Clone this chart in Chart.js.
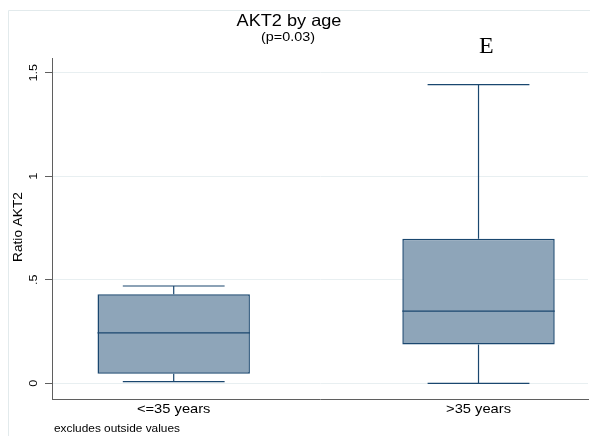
<!DOCTYPE html>
<html>
<head>
<meta charset="utf-8">
<title>AKT2 by age</title>
<script src="https://cdn.jsdelivr.net/npm/chart.js@4.4.0/dist/chart.umd.min.js"></script>
<style>
  body { margin: 0; background: #fff; overflow: hidden; }
  #wrap { width: 590px; height: 436px; }
</style>
</head>
<body>
<div id="wrap">
  <canvas id="boxChart" width="590" height="436"></canvas>
</div>
<script>
// values
var categories = ['<=35 years', '>35 years'];
var lowerWhisker = [0.008, 0.0];
var q1 = [0.046, 0.188];
var median = [0.244, 0.349];
var q3 = [0.430, 0.698];
var upperWhisker = [0.470, 1.442];
var yTicks = [0, 0.5, 1, 1.5];
var yTickLabels = ['0', '.5', '1', '1.5'];

var navy = '#1a476f';
var boxFill = '#8ea5b9';
var axisGray = '#5f5f5f';
var boxHalf = 0.25;
var capHalf = 0.167;

function lineSet(points) {
    return {
        type: 'line',
        data: points,
        borderColor: navy,
        borderWidth: 1.2,
        pointRadius: 0,
        fill: false,
        order: 0
    };
}

var datasets = [];
for (var i = 0; i < categories.length; i++) {
    var x = i + 1;
    datasets.push(lineSet([{x: x - boxHalf, y: median[i]}, {x: x + boxHalf, y: median[i]}]));
    datasets.push(lineSet([{x: x, y: q3[i]}, {x: x, y: upperWhisker[i]}]));
    datasets.push(lineSet([{x: x, y: q1[i]}, {x: x, y: lowerWhisker[i]}]));
    datasets.push(lineSet([{x: x - capHalf, y: upperWhisker[i]}, {x: x + capHalf, y: upperWhisker[i]}]));
    datasets.push(lineSet([{x: x - capHalf, y: lowerWhisker[i]}, {x: x + capHalf, y: lowerWhisker[i]}]));
}
datasets.push({
    type: 'bar',
    data: categories.map(function (c, i) { return {x: i + 1, y: [q1[i], q3[i]]}; }),
    backgroundColor: boxFill,
    borderColor: navy,
    borderWidth: 1.5,
    borderSkipped: false,
    categoryPercentage: 1,
    barPercentage: 0.5,
    order: 1
});

function drawText(ctx, text, x, y, font, sx, align, rot) {
    ctx.save();
    ctx.translate(x, y);
    if (rot) ctx.rotate(rot);
    ctx.scale(sx, 1);
    ctx.font = font;
    ctx.textAlign = align;
    ctx.textBaseline = 'alphabetic';
    ctx.fillStyle = '#000';
    ctx.fillText(text, 0, 0);
    ctx.restore();
}

// faint outer frame of the graph region
var framePlugin = {
    id: 'frame',
    beforeDraw: function (chart) {
        var ctx = chart.ctx;
        ctx.save();
        ctx.strokeStyle = '#e2eaec';
        ctx.lineWidth = 1;
        ctx.beginPath();
        ctx.moveTo(8.5, 440);
        ctx.lineTo(8.5, 10.5);
        ctx.lineTo(595, 10.5);
        ctx.stroke();
        ctx.restore();
    }
};

var textPlugin = {
    id: 'stataText',
    afterDraw: function (chart) {
        var ctx = chart.ctx;
        var xs = chart.scales.x, ys = chart.scales.y;
        var sans = '"Liberation Sans", Arial, sans-serif';
        drawText(ctx, 'AKT2 by age', 289, 26, '16.5px ' + sans, 1.1, 'center');
        drawText(ctx, '(p=0.03)', 288, 41, '12.5px ' + sans, 1.15, 'center');
        drawText(ctx, 'E', 479, 53, '24px "Liberation Serif", "Times New Roman", serif', 1, 'left');
        drawText(ctx, 'Ratio AKT2', 22, 227, '13px ' + sans, 1.05, 'center', -Math.PI / 2);
        for (var i = 0; i < yTicks.length; i++) {
            drawText(ctx, yTickLabels[i], 37, ys.getPixelForValue(yTicks[i]), '11px ' + sans, 1.15, 'center', -Math.PI / 2);
        }
        for (var j = 0; j < categories.length; j++) {
            drawText(ctx, categories[j], xs.getPixelForValue(j + 1), 413, '13px ' + sans, 1.13, 'center');
        }
        drawText(ctx, 'excludes outside values', 54, 432, '10.5px ' + sans, 1.13, 'left');
    }
};

new Chart(document.getElementById('boxChart').getContext('2d'), {
    type: 'bar',
    data: { datasets: datasets },
    options: {
        responsive: false,
        animation: false,
        events: [],
        layout: { padding: { top: 58, left: 0, right: 2, bottom: 0 } },
        plugins: {
            legend: { display: false },
            title: { display: false },
            tooltip: { enabled: false }
        },
        scales: {
            x: {
                type: 'linear',
                offset: false,
                min: 0.6007,
                max: 2.3592,
                afterBuildTicks: function (scale) {
                    scale.ticks = categories.map(function (c, i) { return {value: i + 1}; });
                },
                afterFit: function (scale) { scale.height = 37; },
                ticks: { display: false },
                grid: { display: false },
                border: { display: true, color: axisGray, width: 1 }
            },
            y: {
                type: 'linear',
                min: -0.0758,
                max: 1.571,
                afterBuildTicks: function (scale) {
                    scale.ticks = yTicks.map(function (v) { return {value: v}; });
                },
                afterFit: function (scale) { scale.width = 52; },
                ticks: { display: false },
                grid: { color: '#e8eff1', tickColor: axisGray, tickLength: 7, lineWidth: 1 },
                border: { display: true, color: axisGray, width: 1 }
            }
        }
    },
    plugins: [framePlugin, textPlugin]
});
</script>
</body>
</html>
